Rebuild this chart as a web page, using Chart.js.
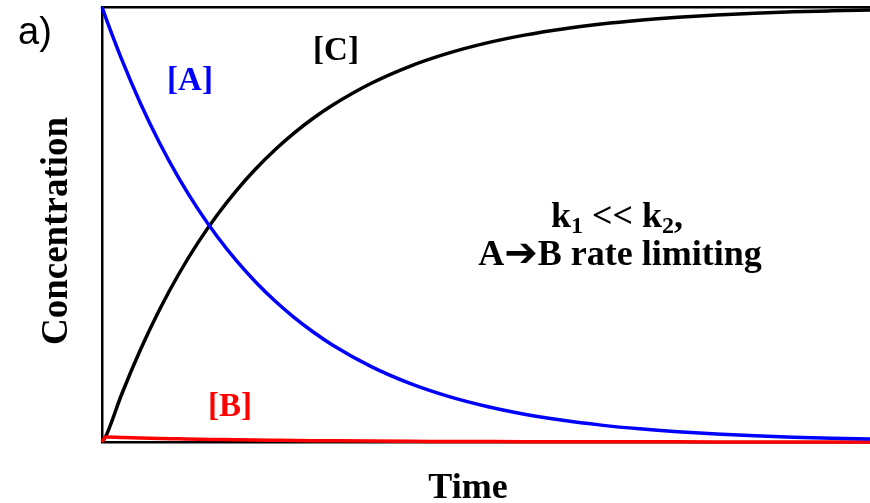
<!DOCTYPE html>
<html>
<head>
<meta charset="utf-8">
<title>Concentration vs Time</title>
<script src="https://cdn.jsdelivr.net/npm/chart.js@4/dist/chart.umd.min.js"></script>
<style>
    html, body { margin: 0; padding: 0; background: #ffffff; }
    canvas { display: block; }
</style>
</head>
<body>
<canvas id="chart-cinetica" width="870" height="503"></canvas>
<script>
// Valores (tempo em unidades arbitrarias, concentracao relativa)
const tempo = [0, 0.05, 0.25, 0.5, 0.75, 1, 1.25, 1.5, 1.75, 2, 2.25, 2.5, 2.75, 3,
    3.5, 4, 4.5, 5, 5.5, 6, 6.5, 7, 7.5, 8, 8.5, 9, 9.5, 10];

const concA = [1, 0.975, 0.8825, 0.7788, 0.6873, 0.6065, 0.5353, 0.4724, 0.4169, 0.3679,
    0.3247, 0.2865, 0.2528, 0.2231, 0.1738, 0.1353, 0.1054, 0.0821, 0.0639, 0.0498,
    0.0388, 0.0302, 0.0235, 0.0183, 0.0143, 0.0111, 0.0087, 0.0067];

const concB = [0, 0.0117, 0.0106, 0.0093, 0.0082, 0.0073, 0.0064, 0.0057, 0.0050, 0.0044,
    0.0039, 0.0034, 0.0030, 0.0027, 0.0021, 0.0016, 0.0013, 0.0010, 0.0008, 0.0006,
    0.0005, 0.0004, 0.0003, 0.0002, 0.0002, 0.0001, 0.0001, 0.0001];

const concC = [0, 0.0133, 0.1069, 0.2119, 0.3045, 0.3862, 0.4583, 0.5219, 0.5781, 0.6277,
    0.6714, 0.7101, 0.7442, 0.7742, 0.8241, 0.8631, 0.8933, 0.9169, 0.9353, 0.9496,
    0.9607, 0.9694, 0.9762, 0.9815, 0.9855, 0.9888, 0.9912, 0.9932];

const rotuloPainel = 'a)';
const tituloX = 'Time';
const tituloY = 'Concentration';

// Junta tempo e concentracao em pontos {x, y}
function pontos(valores) {
    return tempo.map((t, i) => ({ x: t, y: valores[i] }));
}

const serif = '"Liberation Serif", "Times New Roman", serif';

// Escreve trechos de texto (com subscrito ou outra fonte), centralizado em cx
function textoEmTrechos(ctx, partes, cx, base, tamanho) {
    const fonteDe = (p) => {
        if (p.fonte) return p.fonte;
        if (p.sub) return `bold ${Math.round(tamanho * 0.68)}px ${serif}`;
        return `bold ${tamanho}px ${serif}`;
    };
    let largura = 0;
    partes.forEach(p => {
        ctx.font = fonteDe(p);
        largura += ctx.measureText(p.t).width;
    });
    let x = cx - largura / 2;
    ctx.textAlign = 'left';
    partes.forEach(p => {
        ctx.font = fonteDe(p);
        ctx.fillText(p.t, x, base + (p.sub ? 6 : 0) + (p.dy || 0));
        x += ctx.measureText(p.t).width;
    });
}

// Plugin com os rotulos das curvas, titulos dos eixos e anotacao
const rotulos = {
    id: 'rotulos',
    afterDraw(chart) {
        const ctx = chart.ctx;
        ctx.save();
        ctx.textBaseline = 'alphabetic';

        ctx.fillStyle = '#000000';
        ctx.font = '38px "Liberation Sans", Arial, sans-serif';
        ctx.textAlign = 'left';
        ctx.fillText(rotuloPainel, 18, 44);

        ctx.textAlign = 'center';
        ctx.font = `bold 33px ${serif}`;
        ctx.fillStyle = '#0000ff';
        ctx.fillText('[A]', 190, 90);
        ctx.fillStyle = '#000000';
        ctx.fillText('[C]', 336, 60);
        ctx.fillStyle = '#ff0000';
        ctx.fillText('[B]', 230, 416);

        ctx.fillStyle = '#000000';
        textoEmTrechos(ctx, [
            { t: 'k' }, { t: '1', sub: true }, { t: ' << k' }, { t: '2', sub: true }, { t: ',' }
        ], 617, 227, 36);
        textoEmTrechos(ctx, [
            { t: 'A' },
            { t: '\u2794', fonte: 'bold 40px "DejaVu Sans", sans-serif', dy: 1 },
            { t: 'B rate limiting' }
        ], 620, 265, 36);

        ctx.font = `bold 36px ${serif}`;
        ctx.textAlign = 'center';
        ctx.fillText(tituloX, 468, 498);

        ctx.font = `bold 37px ${serif}`;
        ctx.translate(67, 231);
        ctx.rotate(-Math.PI / 2);
        ctx.fillText(tituloY, 0, 0);
        ctx.restore();
    }
};

document.addEventListener('DOMContentLoaded', () => {
    const canvas = document.getElementById('chart-cinetica');

    const linha = (rotulo, valores, cor) => ({
        label: rotulo,
        data: pontos(valores),
        borderColor: cor,
        borderWidth: 3.5,
        pointRadius: 0,
        fill: false,
        cubicInterpolationMode: 'monotone',
        clip: false
    });

    const eixoSemMarcas = (posicao) => ({
        type: 'linear',
        position: posicao,
        ticks: { display: false },
        grid: { display: false, drawTicks: false },
        border: { display: true, color: '#000000', width: 2.5 }
    });

    new Chart(canvas, {
        type: 'line',
        data: {
            datasets: [
                linha('[A]', concA, '#0000ff'),
                linha('[B]', concB, '#ff0000'),
                linha('[C]', concC, '#000000')
            ]
        },
        options: {
            responsive: false,
            animation: false,
            layout: {
                padding: { left: 102, right: 0, top: 7, bottom: 61 }
            },
            plugins: {
                legend: { display: false },
                tooltip: { enabled: false }
            },
            scales: {
                x: Object.assign(eixoSemMarcas('bottom'), { min: 0, max: 10 }),
                xTopo: Object.assign(eixoSemMarcas('top'), { min: 0, max: 10 }),
                y: Object.assign(eixoSemMarcas('left'), { min: 0, max: 1 })
            }
        },
        plugins: [rotulos]
    });
});
</script>
</body>
</html>
